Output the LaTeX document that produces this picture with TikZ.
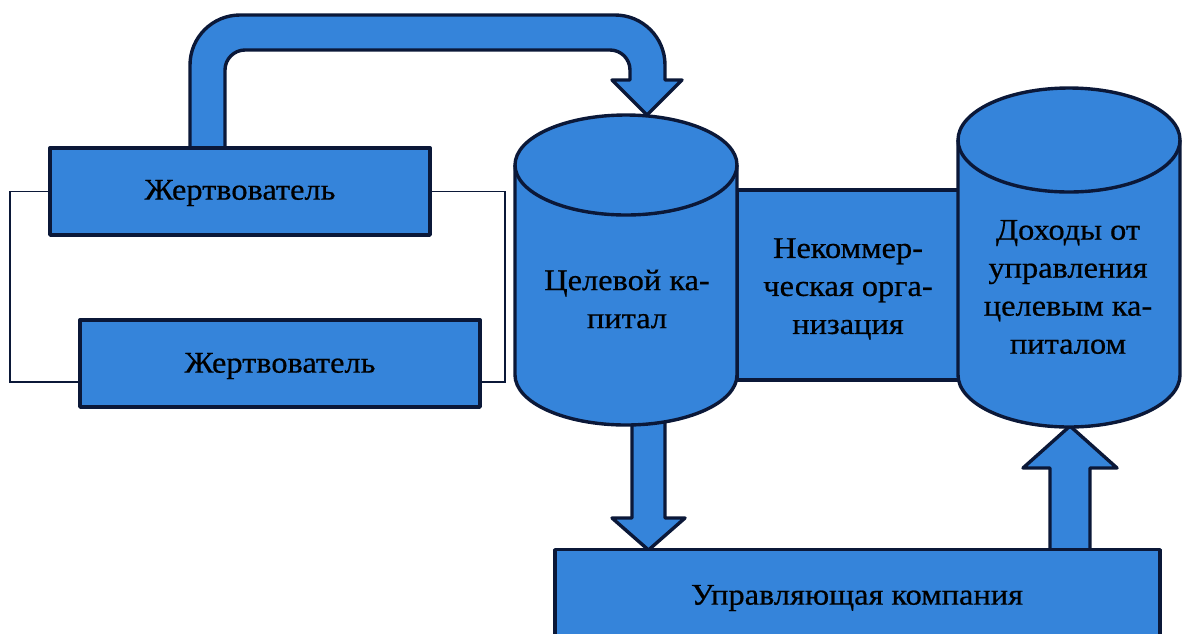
\documentclass[tikz,border=0pt]{standalone}
\usepackage{fontspec}
\setmainfont{Liberation Serif}[FakeStretch=1.08, FakeBold=0.6]
\usetikzlibrary{calc}
\definecolor{fillb}{HTML}{3584DA}
\definecolor{edgec}{HTML}{0B1838}
\begin{document}
\begin{tikzpicture}[x=1pt,y=1pt,
  shp/.style={fill=fillb, draw=edgec, line width=3.4pt, line join=round},
  box/.style={shp, inner sep=0pt},
  txt/.style={font=\fontsize{30}{38}\selectfont, align=center, text=black},
  wire/.style={draw=edgec, line width=1.8pt}]
\useasboundingbox (0,0) rectangle (1185,-633);
% middle rectangle
\node[box, minimum width=223pt, minimum height=190pt] (nkorect) at (848.5,-285) {};
% curved arrow from top donor to capital
\draw[shp] (190,-148) -- (190,-65) arc[start angle=180,end angle=90,radius=50pt]
  -- (615,-15) arc[start angle=90,end angle=0,radius=50pt]
  -- (665,-80) -- (682,-80) -- (647,-115) -- (612,-80) -- (630,-80)
  -- (630,-70) arc[start angle=0,end angle=90,radius=20pt]
  -- (245,-50) arc[start angle=90,end angle=180,radius=20pt]
  -- (225,-148) -- cycle;
% down arrow
\draw[shp] (632,-400) -- (632,-518) -- (612,-518) -- (648.5,-550) -- (685,-518) -- (665,-518) -- (665,-400) -- cycle;
% up arrow
\draw[shp] (1050,-560) -- (1050,-468) -- (1023,-468) -- (1070,-426) -- (1117,-468) -- (1090,-468) -- (1090,-560) -- cycle;
% cylinder 1
\draw[shp] (515,-165) -- (515,-375) arc[start angle=180,end angle=360,x radius=111pt,y radius=50pt]
  -- (737,-165) arc[start angle=0,end angle=180,x radius=111pt,y radius=50pt] -- cycle;
\draw[draw=edgec, line width=3.4pt] (515,-165) arc[start angle=180,end angle=360,x radius=111pt,y radius=50pt];
% cylinder 2
\draw[shp] (958,-140) -- (958,-375) arc[start angle=180,end angle=360,x radius=111pt,y radius=52pt]
  -- (1180,-140) arc[start angle=0,end angle=180,x radius=111pt,y radius=52pt] -- cycle;
\draw[draw=edgec, line width=3.4pt] (958,-140) arc[start angle=180,end angle=360,x radius=111pt,y radius=52pt];
% donor boxes
\node[box, minimum width=380pt, minimum height=87pt] (d1) at (240,-191.5) {};
\node[txt] at (240,-193) {Жертвователь};
\node[box, minimum width=400pt, minimum height=87pt] (d2) at (280,-363.5) {};
\node[txt] at (280,-366) {Жертвователь};
% management company
\node[box, minimum width=605pt, minimum height=120pt, anchor=north] (mg) at (857.5,-548) {};
\node[txt] at (857,-598) {Управляющая компания};
% texts
\node[txt] (c1) at (627,-299) {Целевой ка-\\питал};
\node[txt] (nko) at (848,-289) {Некоммер-\\ческая орга-\\низация};
\node[txt] (c2) at (1068,-287) {Доходы от\\управления\\целевым ка-\\питалом};
% bracket lines
\draw[wire] (d1.west) -- ++(-38,0) |- ([yshift=27pt]d2.south west);
\draw[wire] (d1.east) -- ++(73,0) |- ([yshift=27pt]d2.south east);
\end{tikzpicture}
\end{document}
